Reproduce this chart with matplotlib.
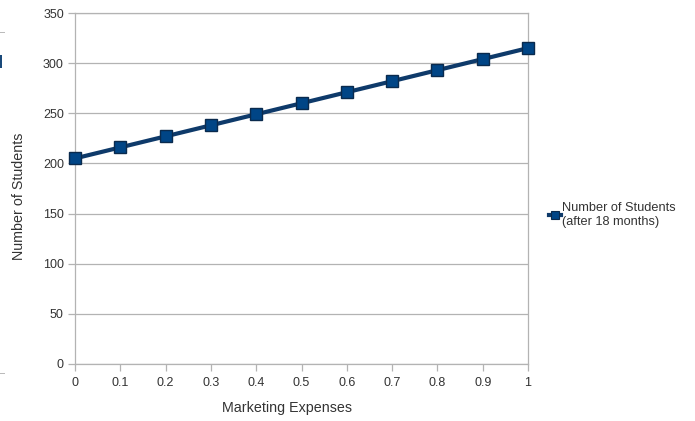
import matplotlib.pyplot as plt
from matplotlib.lines import Line2D
from matplotlib.patches import Rectangle

# marketing expense share vs. student count after 18 months
expenses = [0, 0.1, 0.2, 0.3, 0.4, 0.5, 0.6, 0.7, 0.8, 0.9, 1.0]
students = [205, 216, 227, 238, 249, 260, 271, 282, 293, 304, 315]
x_ticks = [0, 0.1, 0.2, 0.3, 0.4, 0.5, 0.6, 0.7, 0.8, 0.9, 1]
x_tick_labels = ["0", "0.1", "0.2", "0.3", "0.4", "0.5", "0.6", "0.7", "0.8", "0.9", "1"]
y_ticks = [0, 50, 100, 150, 200, 250, 300, 350]

plt.rcParams['font.family'] = ['Liberation Sans', 'DejaVu Sans']

fig = plt.figure(figsize=(6.95, 4.21), dpi=100)
ax = fig.add_axes([75/695, 57/421, 453/695, 351/421])

grid_col = '#b3b3b3'
line_col = '#0e3a6a'
mark_col = '#004586'

ax.plot(expenses, students, color=line_col, lw=3.0, marker='s', ms=8.5,
        mfc=mark_col, mec='#0a2a4d', mew=1.0, zorder=3, clip_on=False)

ax.set_xlim(0, 1)
ax.set_ylim(0, 350)
ax.set_xticks(x_ticks)
ax.set_xticklabels(x_tick_labels)
ax.set_yticks(y_ticks)
ax.grid(axis='y', color=grid_col, lw=0.9)
ax.set_axisbelow(True)
for s in ax.spines.values():
    s.set_color(grid_col)
    s.set_linewidth(0.9)
ax.tick_params(colors=grid_col, labelcolor='#333333', labelsize=9, length=5, width=0.9)
ax.tick_params(axis='x', pad=4)
ax.tick_params(axis='y', pad=3)

ax.set_xlabel("Marketing Expenses", fontsize=10.3, color='#333333')
ax.set_ylabel("Number of Students", fontsize=10.3, color='#333333')
ax.xaxis.set_label_coords(0.468, -0.105)
ax.yaxis.set_label_coords(-0.108, 0.479)

# legend
handle = Line2D([], [], color=line_col, lw=3, marker='s', ms=6,
                mfc=mark_col, mec='#0a2a4d', mew=0.8)
leg = fig.legend([handle], ["Number of Students\n(after 18 months)"],
                 loc='upper left', bbox_to_anchor=(549/695, 1 - 202/421),
                 frameon=False, fontsize=9.2, handlelength=0.9,
                 handletextpad=0.15, borderaxespad=0, borderpad=0)
for t in leg.get_texts():
    t.set_color('#333333')

# stray bits along the left edge
fig.patches.append(Rectangle((0, 1 - 33/421), 5/695, 1.2/421, transform=fig.transFigure,
                             color='#bbbbbb', lw=0))
fig.patches.append(Rectangle((0, 1 - 68/421), 2/695, 13/421, transform=fig.transFigure,
                             color='#1a4a7a', lw=0))
fig.patches.append(Rectangle((0, 1 - 374/421), 5/695, 1.2/421, transform=fig.transFigure,
                             color='#bbbbbb', lw=0))

fig.savefig("out.png", dpi=100)
